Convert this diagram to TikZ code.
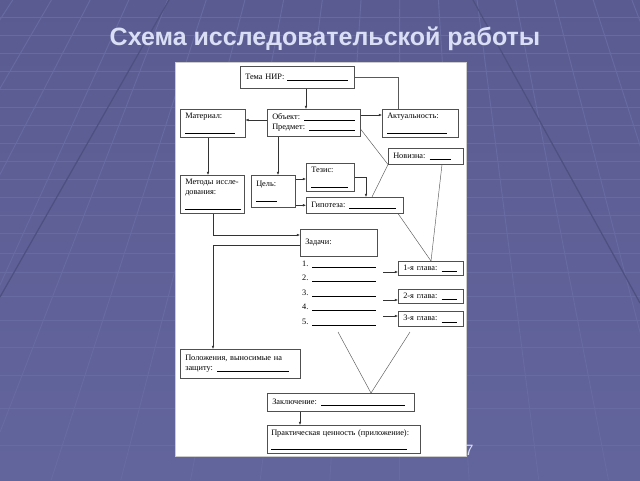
\documentclass[tikz,border=0pt]{standalone}
\usepackage{fontspec}
\setmainfont{Liberation Serif}
\newfontfamily\arialfont{Liberation Sans}
\usetikzlibrary{arrows.meta}
\definecolor{fonverh}{RGB}{90,92,145}
\definecolor{fonniz}{RGB}{98,100,156}
\definecolor{setka}{RGB}{104,107,162}
\definecolor{temno}{RGB}{78,80,128}
\definecolor{zagl}{RGB}{218,223,245}
\definecolor{ramka}{RGB}{80,80,80}
\newcommand\prazno[1]{\rule[-1.2pt]{#1pt}{0.55pt}}
\newcommand\dopolno{\leavevmode\leaders\hrule height -0.65pt depth 1.2pt\hfill\kern0pt}
\newcommand\tekst{\fontsize{8.3}{10}\selectfont}
\tikzset{
  blok/.style={draw=ramka, line width=0.5pt, fill=white, anchor=north west,
    inner xsep=5pt, inner ysep=0pt, align=left, font=\tekst},
  punkt/.style={anchor=base west, inner sep=0pt, font=\tekst},
  strelka/.style={-{Latex[length=3.2pt,width=2.6pt]}, draw=black!80, line width=0.45pt},
  linija/.style={draw=black!65, line width=0.45pt},
}
\begin{document}
\begin{tikzpicture}[x=1pt,y=-1pt]
\useasboundingbox (0,0) rectangle (640,480);
% ------ fon slajda -------------------
\shade[top color=fonverh, bottom color=fonniz] (0,0) rectangle (640,480);
\begin{scope}
  \clip (0,0) rectangle (640,480);
  \foreach \y in {17,35,53,71,89,107,125,143,161,179,197,215,233,253,272,296,320,347,375,408,445}
    \draw[setka, line width=1pt] (0,\y) -- (640,\y);
  \foreach \k in {-4,...,14}
    \draw[setka, line width=0.9pt] (400,-600) -- ({400+1.35*(90+51.6*\k-400)},480);
  \draw[temno, line width=1.2pt] (169,0) -- (0,297);
  \draw[temno, line width=1.2pt] (473,0) -- (640,303);
\end{scope}
\fill[white] (175,62) rectangle (466,456);
\draw[black!20, line width=0.4pt] (175,62) rectangle (466,456);
\node[font=\arialfont\bfseries\fontsize{25}{28}\selectfont, text=zagl, anchor=base]
  (naslov) at (325,45) {Схема исследовательской работы};
\node[font=\arialfont\fontsize{15}{15}\selectfont, text=zagl, anchor=base west, inner sep=0pt]
  (nomer) at (465,455) {7};
% ------ bloki -------------------
\node[blok, minimum width=114, minimum height=22, text width=104] (tema) at (240,66) {Тема НИР: \prazno{61}};
\node[blok, minimum width=65, minimum height=28, text width=55] (material) at (180,109) {Материал:\\[3pt]\prazno{50}};
\node[blok, minimum width=93, minimum height=27, text width=83] (objekt) at (267,109) {Объект: \dopolno\\Предмет: \dopolno};
\node[blok, minimum width=76, minimum height=28, text width=66] (aktual) at (382,109) {Актуальность:\\[3pt]\prazno{60}};
\node[blok, minimum width=75, minimum height=16, text width=65] (novizna) at (388,148) {Новизна: \prazno{21}};
\node[blok, minimum width=64, minimum height=38, text width=54] (metody) at (180,175) {Методы иссле-\\дования:\\[3pt]\prazno{56}};
\node[blok, minimum width=44, minimum height=32, text width=34] (cel) at (251,175) {Цель:\\[4pt]\prazno{21}};
\node[blok, minimum width=48, minimum height=28, text width=38] (tezis) at (306,163) {Тезис:\\[3pt]\prazno{37}};
\node[blok, minimum width=97, minimum height=16, text width=87] (gipoteza) at (306,197) {Гипотеза: \prazno{47}};
\node[blok, minimum width=77, minimum height=27, text width=67] (zadachi) at (300,229) {Задачи:};
\node[blok, minimum width=65, minimum height=14, text width=55] (glava1) at (398,261) {1-я глава: \prazno{15}};
\node[blok, minimum width=65, minimum height=14, text width=55] (glava2) at (398,289) {2-я глава: \prazno{15}};
\node[blok, minimum width=65, minimum height=15, text width=55] (glava3) at (398,311) {3-я глава: \prazno{15}};
\node[blok, minimum width=120, minimum height=29, text width=110] (polozh) at (180,349) {Положения, выносимые на\\защиту: \prazno{72}};
\node[blok, minimum width=147, minimum height=18, text width=137] (zakl) at (267,393) {Заключение: \prazno{84}};
\node[blok, minimum width=153, minimum height=28, text width=145, inner xsep=4pt] (prakt) at (267,425) {Практическая ценность (приложение):\\[3pt]\prazno{136}};
\foreach \i in {1,...,5}
  \node[punkt] (p\i) at (302,{251.5+14.5*\i}) {\i.\hspace{4pt}\prazno{64}};
% ------ opornye tochki -------------------
\coordinate (X1) at (306,0);  \coordinate (X2) at (398,0);
\coordinate (X3) at (372,0);  \coordinate (X4) at (442,0);
\coordinate (X5) at (431,0);  \coordinate (X6) at (278,0);
\coordinate (X7) at (208,0);  \coordinate (X8) at (366,0);
\coordinate (X9) at (213,0);  \coordinate (X10) at (371,0);
\coordinate (X11) at (300,0);
\coordinate (Y1) at (0,120);  \coordinate (Y2) at (0,115);
\coordinate (Y3) at (0,129);  \coordinate (Y4) at (0,179);
\coordinate (Y5) at (0,235);  \coordinate (Y6) at (0,245);
\coordinate (V1) at (338,332); \coordinate (V2) at (410,332);
\coordinate (G1) at (383,272); \coordinate (G2) at (383,300); \coordinate (G3) at (383,316);
% ------ svjazi -------------------
\draw[strelka] (tema.south -| X1) -- (objekt.north -| X1);
\draw[strelka] (objekt.west |- Y1) -- (material.east |- Y1);
\draw[strelka] (objekt.east |- Y2) -- (aktual.west |- Y2);
\draw[linija] (tema.east) -| (aktual.north -| X2);
\draw[linija] (objekt.east |- Y3) -- (novizna.south west);
\draw[linija] (novizna.south west) -- (gipoteza.north -| X3);
\draw[linija] (novizna.south -| X4) -- (glava1.north -| X5);
\draw[linija] (gipoteza.south -| X2) -- (glava1.north -| X5);
\draw[strelka] (objekt.south -| X6) -- (cel.north -| X6);
\draw[strelka] (material.south -| X7) -- (metody.north -| X7);
\draw[strelka] (cel.east |- Y4) -- (tezis.west |- Y4);
\draw[strelka] (cel.east |- gipoteza.west) -- (gipoteza.west);
\draw[strelka] (tezis.east) -| (gipoteza.north -| X8);
\draw[strelka] (metody.south -| X9) |- (zadachi.west |- Y5);
\draw[strelka] (zadachi.west |- Y6) -| (polozh.north -| X9);
\draw[linija] (V1) -- (zakl.north -| X10) -- (V2);
\draw[strelka] (zakl.south -| X11) -- (prakt.north -| X11);
\foreach \g in {1,2,3}
  \draw[strelka] (G\g) -- (glava\g.west |- G\g);
\end{tikzpicture}
\end{document}
